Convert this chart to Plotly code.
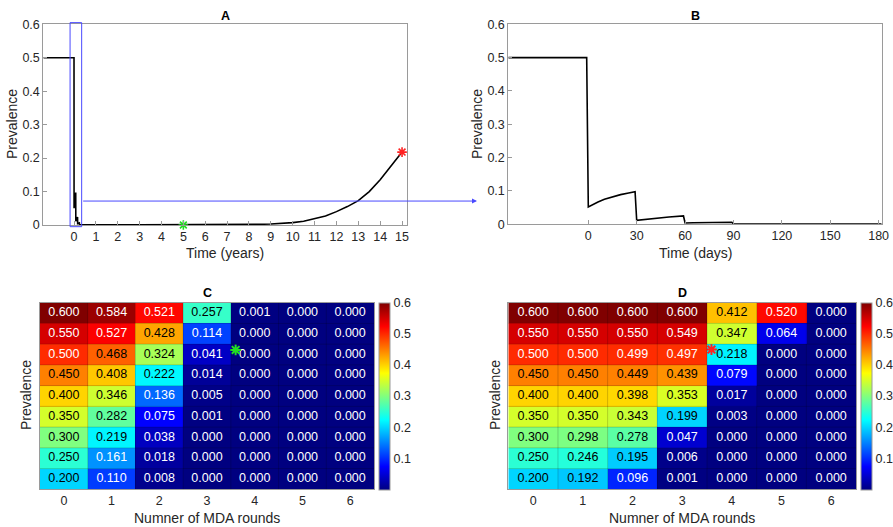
import plotly.graph_objects as go

W, H = 893, 527
FONT = "Liberation Sans, Arial, Helvetica, sans-serif"

# ---------------- data ----------------
# Panel A: prevalence over years
years_A = [-1.404, 0.0, 0.003, 0.02, 0.05, 0.079, 0.082, 0.12, 0.162, 0.167, 0.20, 0.244, 0.25,
           0.5, 1, 2, 3, 4, 5, 6, 7, 8, 8.5, 9, 9.5, 10, 10.5, 11, 11.5, 12, 12.5, 13,
           13.5, 14, 14.5, 15]
prev_A = [0.5, 0.5, 0.05, 0.068, 0.085, 0.097, 0.011, 0.018, 0.024, 0.004, 0.005, 0.006, 0.001,
          0.0006, 0.0005, 0.0004, 0.0003, 0.0003, 0.0003, 0.0004, 0.0006, 0.0012, 0.002, 0.003,
          0.0045, 0.007, 0.011, 0.018, 0.027, 0.040, 0.055, 0.073, 0.100, 0.135, 0.175, 0.218]
marker_A_x = [5, 15]
marker_A_y = [0.0, 0.218]
marker_A_col = ["#22dd22", "#ff2222"]
zoom_box_years = [-0.18, 0.35]
zoom_box_prev = [-0.005, 0.605]
arrow_prev = 0.0716

# Panel B: prevalence over days
days_B = [-49.6, -1, 0, 3, 6, 10, 15, 20, 25, 29, 30, 35, 40, 50, 59, 60, 65, 75, 89, 90, 120, 150, 181.9]
prev_B = [0.5, 0.5, 0.052, 0.060, 0.067, 0.075, 0.083, 0.089, 0.094, 0.098, 0.012, 0.015, 0.018,
          0.022, 0.025, 0.004, 0.0045, 0.005, 0.006, 0.001, 0.0008, 0.0007, 0.0006]

# Panels C and D: heatmaps
rounds = [0, 1, 2, 3, 4, 5, 6]
init_prev = [0.60, 0.55, 0.50, 0.45, 0.40, 0.35, 0.30, 0.25, 0.20]
heat_C = [
    [0.600, 0.584, 0.521, 0.257, 0.001, 0.000, 0.000],
    [0.550, 0.527, 0.428, 0.114, 0.000, 0.000, 0.000],
    [0.500, 0.468, 0.324, 0.041, 0.000, 0.000, 0.000],
    [0.450, 0.408, 0.222, 0.014, 0.000, 0.000, 0.000],
    [0.400, 0.346, 0.136, 0.005, 0.000, 0.000, 0.000],
    [0.350, 0.282, 0.075, 0.001, 0.000, 0.000, 0.000],
    [0.300, 0.219, 0.038, 0.000, 0.000, 0.000, 0.000],
    [0.250, 0.161, 0.018, 0.000, 0.000, 0.000, 0.000],
    [0.200, 0.110, 0.008, 0.000, 0.000, 0.000, 0.000],
]
heat_D = [
    [0.600, 0.600, 0.600, 0.600, 0.412, 0.520, 0.000],
    [0.550, 0.550, 0.550, 0.549, 0.347, 0.064, 0.000],
    [0.500, 0.500, 0.499, 0.497, 0.218, 0.000, 0.000],
    [0.450, 0.450, 0.449, 0.439, 0.079, 0.000, 0.000],
    [0.400, 0.400, 0.398, 0.353, 0.017, 0.000, 0.000],
    [0.350, 0.350, 0.343, 0.199, 0.003, 0.000, 0.000],
    [0.300, 0.298, 0.278, 0.047, 0.000, 0.000, 0.000],
    [0.250, 0.246, 0.195, 0.006, 0.000, 0.000, 0.000],
    [0.200, 0.192, 0.096, 0.001, 0.000, 0.000, 0.000],
]
star_C = (3.6, 0.511)
star_D = (3.59, 0.512)

# ---------------- layout helpers ----------------
def fx(p):
    return p / W

def fy(p):
    return 1 - p / H

domA = ([fx(43.3), fx(407.3)], [fy(225), fy(24.3)])
domB = ([fx(508.3), fx(881.7)], [fy(224.3), fy(24.3)])
domC = ([fx(40), fx(374)], [fy(489.3), fy(302.7)])
domD = ([fx(508.3), fx(856)], [fy(489.3), fy(302.7)])

rangeA = [-1.404, 15.24]
rangeB = [-49.6, 181.9]

jet = [[0.0, "rgb(0,0,128)"], [0.125, "rgb(0,0,255)"], [0.375, "rgb(0,255,255)"],
       [0.625, "rgb(255,255,0)"], [0.875, "rgb(255,0,0)"], [1.0, "rgb(128,0,0)"]]

AX = "#9a9a9a"
TICKF = dict(family=FONT, size=12.5, color="#262626")

fig = go.Figure()

# Panel A
fig.add_trace(go.Scatter(x=years_A, y=prev_A, mode="lines", line=dict(color="black", width=1.6),
                         xaxis="x", yaxis="y", showlegend=False, hoverinfo="skip"))
fig.add_trace(go.Scatter(x=marker_A_x, y=marker_A_y, mode="markers",
                         marker=dict(symbol="asterisk-open", size=8, color=marker_A_col,
                                     line=dict(color=marker_A_col, width=1.6)),
                         xaxis="x", yaxis="y", showlegend=False, cliponaxis=False))
# Panel B
fig.add_trace(go.Scatter(x=days_B, y=prev_B, mode="lines", line=dict(color="black", width=1.6),
                         xaxis="x2", yaxis="y2", showlegend=False))

def text_colors(z):
    out = []
    for row in z:
        for v in row:
            out.append("white" if (v >= 0.49 or v <= 0.165) else "black")
    return out

def add_heat(z, xa, ya, cbx, star, star_col):
    fig.add_trace(go.Heatmap(z=z, x=rounds, y=init_prev, colorscale=jet, zmin=0, zmax=0.6,
                             xaxis=xa, yaxis=ya, xgap=0, ygap=0,
                             colorbar=dict(x=cbx, xanchor="left", xpad=0, ypad=0,
                                           thickness=11, thicknessmode="pixels",
                                           len=(489.3 - 302.7) / H, lenmode="fraction",
                                           y=fy(396), yanchor="middle",
                                           outlinecolor=AX, outlinewidth=1,
                                           tickvals=[0.1, 0.2, 0.3, 0.4, 0.5, 0.6],
                                           ticktext=["0.1", "0.2", "0.3", "0.4", "0.5", "0.6"],
                                           ticks="", tickfont=TICKF)))
    xs, ys, ts = [], [], []
    for i, row in enumerate(z):
        for j, v in enumerate(row):
            xs.append(rounds[j]); ys.append(init_prev[i]); ts.append(f"{v:.3f}")
    fig.add_trace(go.Scatter(x=xs, y=ys, text=ts, mode="text",
                             textfont=dict(family=FONT, size=12.5, color=text_colors(z)),
                             xaxis=xa, yaxis=ya, showlegend=False, hoverinfo="skip"))
    fig.add_trace(go.Scatter(x=[star[0]], y=[star[1]], mode="markers",
                             marker=dict(symbol="asterisk-open", size=9, color=star_col,
                                         line=dict(color=star_col, width=2)),
                             xaxis=xa, yaxis=ya, showlegend=False, cliponaxis=False))

add_heat(heat_C, "x3", "y3", fx(379.3), star_C, "#22dd22")
add_heat(heat_D, "x4", "y4", fx(860.5), star_D, "#ff2222")

common = dict(showline=True, linecolor=AX, linewidth=1, mirror=True, zeroline=False,
              showgrid=False, tickfont=TICKF, automargin=False)
line_ax = dict(common, ticks="inside", ticklen=4, tickcolor=AX, tickwidth=1)

yt = [0, 0.1, 0.2, 0.3, 0.4, 0.5, 0.6]
ytt = ["0", "0.1", "0.2", "0.3", "0.4", "0.5", "0.6"]

layout = dict(
    template="none",
    width=W, height=H, margin=dict(l=0, r=0, t=0, b=0, pad=0), autosize=False,
    paper_bgcolor="white", plot_bgcolor="white", showlegend=False,
    font=dict(family=FONT, color="#262626"),
    xaxis=dict(line_ax, domain=domA[0], range=rangeA, tickvals=list(range(0, 16)), anchor="y"),
    yaxis=dict(line_ax, domain=domA[1], range=[0, 0.6], tickvals=yt, ticktext=ytt, anchor="x"),
    xaxis2=dict(line_ax, domain=domB[0], range=rangeB, tickvals=[0, 30, 60, 90, 120, 150, 180], anchor="y2"),
    yaxis2=dict(line_ax, domain=domB[1], range=[0, 0.6], tickvals=yt, ticktext=ytt, anchor="x2"),
    xaxis3=dict(common, domain=domC[0], range=[-0.5, 6.5], tickvals=rounds, ticks="", anchor="y3"),
    yaxis3=dict(common, domain=domC[1], range=[0.175, 0.625], showticklabels=False, ticks="", anchor="x3"),
    xaxis4=dict(common, domain=domD[0], range=[-0.5, 6.5], tickvals=rounds, ticks="", anchor="y4"),
    yaxis4=dict(common, domain=domD[1], range=[0.175, 0.625], showticklabels=False, ticks="", anchor="x4"),
)
fig.update_layout(**layout)

# cell boundary lines on heatmaps
shapes = []
for xa, ya in (("x3", "y3"), ("x4", "y4")):
    for k in range(len(rounds) - 1):
        shapes.append(dict(type="line", xref=xa, yref=ya, x0=rounds[k] + 0.5, x1=rounds[k] + 0.5,
                           y0=0.175, y1=0.625, line=dict(color="rgba(0,0,0,0.18)", width=1)))
    for p in init_prev[:-1]:
        shapes.append(dict(type="line", xref=xa, yref=ya, x0=-0.5, x1=6.5, y0=p - 0.025, y1=p - 0.025,
                           line=dict(color="rgba(0,0,0,0.18)", width=1)))

# zoom box on panel A (paper coords derived from axis scale)
def a_x(v):
    return domA[0][0] + (v - rangeA[0]) / (rangeA[1] - rangeA[0]) * (domA[0][1] - domA[0][0])

def a_y(v):
    return domA[1][0] + (v - 0) / 0.6 * (domA[1][1] - domA[1][0])

shapes.append(dict(type="rect", xref="paper", yref="paper",
                   x0=a_x(zoom_box_years[0]), x1=a_x(zoom_box_years[1]),
                   y0=a_y(zoom_box_prev[0]), y1=a_y(zoom_box_prev[1]),
                   line=dict(color="#4a4aff", width=1)))
fig.update_layout(shapes=shapes)

ann = []
tip_px = 477
tail_px = a_x(zoom_box_years[1]) * W
ann.append(dict(xref="paper", yref="paper", axref="pixel", ayref="pixel",
                x=fx(tip_px), y=a_y(arrow_prev), ax=tail_px - tip_px, ay=0,
                showarrow=True, arrowhead=2, arrowsize=1, arrowwidth=1, arrowcolor="#4a4aff", text=""))

def label(text, x, y, size=14, angle=0, bold=False):
    t = f"<b>{text}</b>" if bold else text
    ann.append(dict(xref="paper", yref="paper", x=fx(x), y=fy(y), text=t, showarrow=False,
                    textangle=angle, xanchor="center", yanchor="middle",
                    font=dict(family=FONT, size=size, color="#262626" if not bold else "black")))

label("A", 225, 15.5, size=12.5, bold=True)
label("B", 695, 15.5, size=12.5, bold=True)
label("C", 207, 293, size=12.5, bold=True)
label("D", 682, 293, size=12.5, bold=True)
label("Time (years)", 225, 253)
label("Time (days)", 695, 253)
label("Prevalence", 12, 124, angle=-90)
label("Prevalence", 477, 124, angle=-90)
label("Numner of MDA rounds", 207, 518)
label("Numner of MDA rounds", 682, 518)
label("Prevalence", 26, 395, angle=-90)
label("Prevalence", 495, 395, angle=-90)
fig.update_layout(annotations=ann)

fig.write_html("out.html", config={"displayModeBar": False},
               post_script="document.body.style.margin='0';document.body.style.overflow='hidden';"
                           "document.documentElement.style.overflow='hidden';")
